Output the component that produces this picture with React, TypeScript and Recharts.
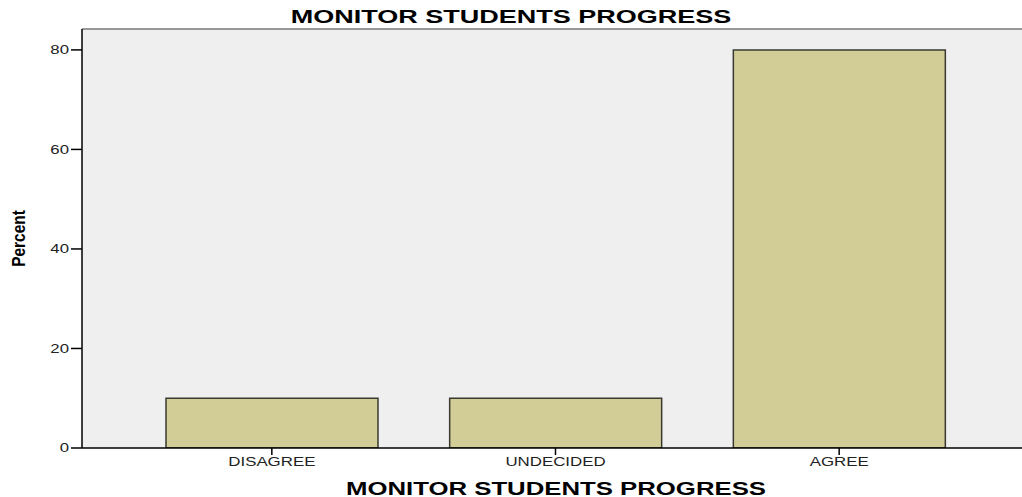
import {Bar, BarChart, CartesianGrid, ReferenceLine, XAxis, YAxis} from 'recharts';

const categories = ['DISAGREE', 'UNDECIDED', 'AGREE'];
const percents = [10, 10, 80];
const yTicks = [0, 20, 40, 60, 80];
const yMax = 84.2;

const FONT = '"Liberation Sans", Arial, sans-serif';

const data = categories.map((name, i) => ({name, percent: percents[i]}));

function XTick({x, y, payload}: any) {
    return (
        <g transform={`translate(${x},${y})`}>
            <text transform="scale(1.35,1)" textAnchor="middle" dy="0.71em" fontSize={12.5} fill="#222" fontFamily={FONT}>
                {payload.value}
            </text>
        </g>
    );
}

function YTick({x, y, payload}: any) {
    return (
        <g transform={`translate(${x},${y})`}>
            <text transform="scale(1.4,1)" textAnchor="end" dy="0.35em" fontSize={12} fill="#222" fontFamily={FONT}>
                {payload.value}
            </text>
        </g>
    );
}

function YTitle({viewBox}: any) {
    const cy = viewBox ? viewBox.y + viewBox.height / 2 : 238;
    return (
        <text transform={`translate(25,${cy}) rotate(-90) scale(0.86,1)`} textAnchor="middle"
              fontSize={18} fontWeight="bold" fill="#000" fontFamily={FONT}>
            Percent
        </text>
    );
}

export default function App() {
    return (
        <div style={{position: 'absolute', left: 0, top: 0, width: 1022, height: 497, background: '#fff'}}>
            <BarChart width={1022} height={497} data={data} margin={{top: 29, right: 0, left: 0, bottom: 0}}>
                <CartesianGrid fill="#efefef" stroke="none" horizontal={false} vertical={false}/>
                <ReferenceLine y={yMax} stroke="#777" strokeWidth={1.5}/>
                <XAxis dataKey="name" height={49} padding={{left: 48, right: 41}}
                       axisLine={{stroke: '#000', strokeWidth: 1.5}} tickLine={{stroke: '#000', strokeWidth: 1.5}}
                       tickSize={7} tick={(p: any) => <XTick {...p}/>} interval={0}/>
                <YAxis width={82} domain={[0, yMax]} ticks={yTicks} allowDataOverflow
                       axisLine={{stroke: '#000', strokeWidth: 1.5}} tickLine={{stroke: '#000', strokeWidth: 1.5}}
                       tickSize={11} tick={(p: any) => <YTick {...p}/>} label={(p: any) => <YTitle {...p}/>}/>
                <Bar dataKey="percent" fill="#d2cc97" stroke="#3a3a32" strokeWidth={1.5} barSize={212}
                     isAnimationActive={false}/>
            </BarChart>
            <div style={{
                position: 'absolute', left: 0, top: 8, width: 1022, textAlign: 'center',
                fontFamily: FONT, fontWeight: 'bold', fontSize: 18, lineHeight: '18px',
                transform: 'scaleX(1.5)', whiteSpace: 'nowrap', color: '#000',
            }}>
                MONITOR STUDENTS PROGRESS
            </div>
            <div style={{
                position: 'absolute', left: 86, top: 480, width: 940, textAlign: 'center',
                fontFamily: FONT, fontWeight: 'bold', fontSize: 18, lineHeight: '18px',
                transform: 'scaleX(1.43)', whiteSpace: 'nowrap', color: '#000',
            }}>
                MONITOR STUDENTS PROGRESS
            </div>
        </div>
    );
}
